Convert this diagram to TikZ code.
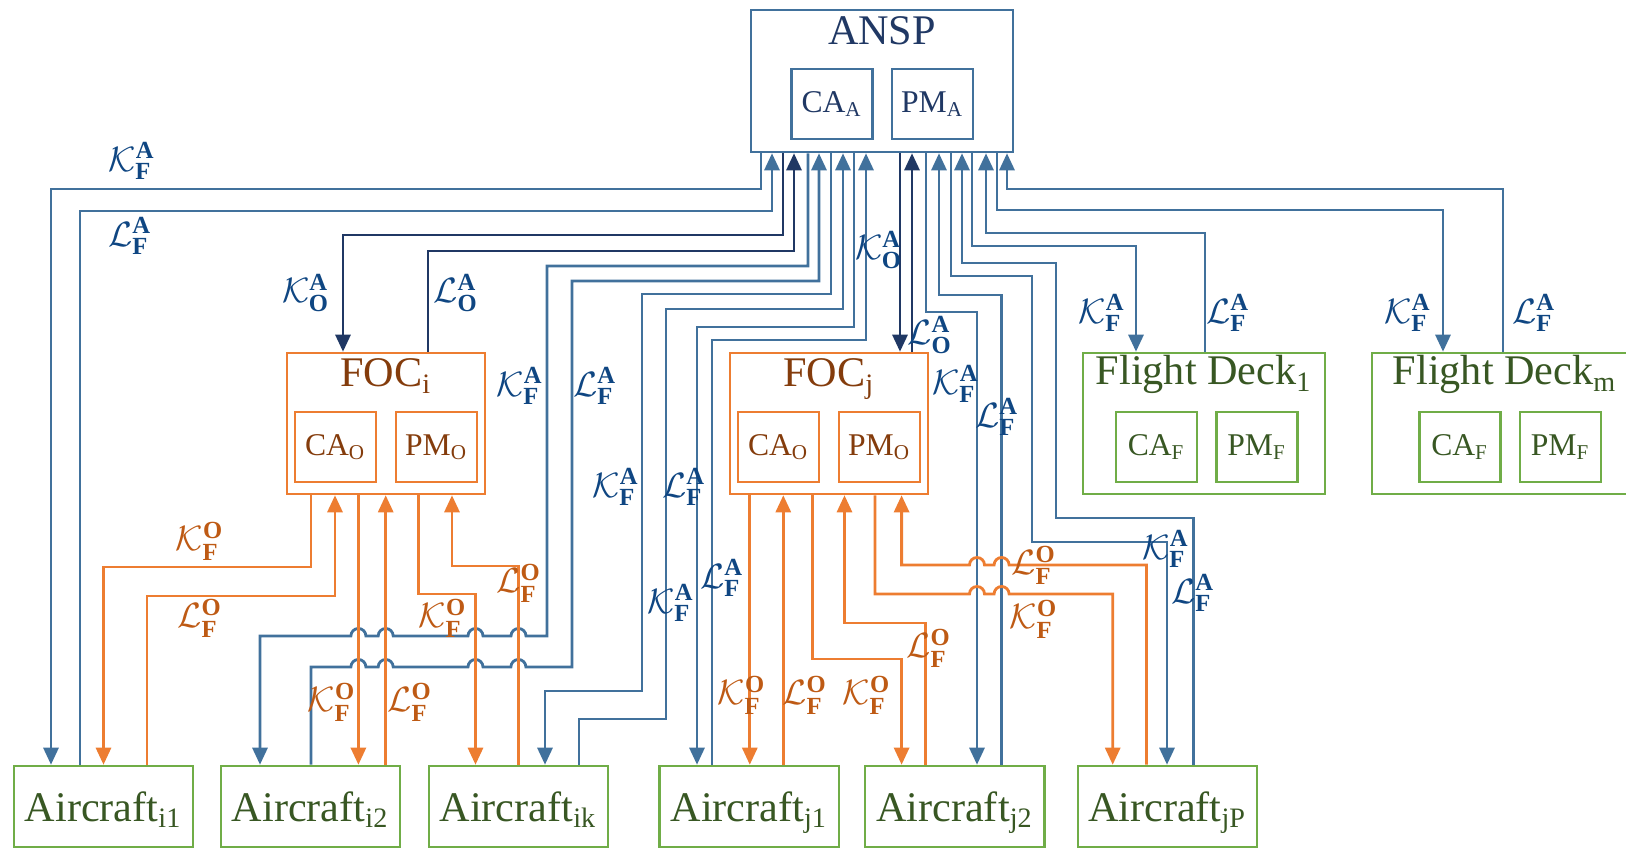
\documentclass[tikz,border=0pt]{standalone}
\usepackage{fontspec}
\setmainfont{Liberation Serif}
\usepackage{amsmath}
\usetikzlibrary{arrows.meta}

\definecolor{lineblue}{RGB}{65,113,156}
\definecolor{darkblue}{RGB}{32,56,100}
\definecolor{textblue}{RGB}{15,70,130}
\definecolor{lineorange}{RGB}{237,125,49}
\definecolor{textorange}{RGB}{190,90,20}
\definecolor{focbrown}{RGB}{132,60,12}
\definecolor{boxgreen}{RGB}{112,173,71}
\definecolor{textgreen}{RGB}{56,87,35}

\newcommand{\kset}[2]{$\mathcal{K}^{\textbf{#1}}_{\textbf{#2}}$}
\newcommand{\lset}[2]{$\mathcal{L}^{\textbf{#1}}_{\textbf{#2}}$}

\tikzset{
	bigbox/.style={draw, line width=0.7pt, inner sep=0pt},
	smallbox/.style={draw, line width=0.7pt, inner sep=0pt, minimum width=0.81cm, minimum height=0.7cm, font=\fontsize{9}{11}\selectfont},
	acbox/.style={draw=boxgreen, text=textgreen, line width=0.7pt, inner sep=0pt, text depth=0pt, minimum width=1.79cm, minimum height=0.81cm, font=\fontsize{12}{14}\selectfont},
	title/.style={inner sep=0pt, anchor=base, font=\fontsize{12}{14}\selectfont},
	arr/.style={-{Triangle[length=0.17cm,width=0.15cm]}},
	alink/.style={lineblue, line width=0.8pt},
	olink/.style={darkblue, line width=0.8pt},
	flink/.style={lineorange, line width=0.8pt},
	alab/.style={text=textblue, inner sep=0pt, font=\fontsize{10}{12}\selectfont},
	flab/.style={text=textorange, inner sep=0pt, font=\fontsize{10}{12}\selectfont},
}

\begin{document}
\begin{tikzpicture}[x=0.01cm, y=-0.01cm]
	\useasboundingbox (0,0) rectangle (1626,849);
	%boîtes
	\node[bigbox, draw=lineblue, minimum width=2.62cm, minimum height=1.42cm] (ansp) at (882,81) {};
	\node[title, text=darkblue] (ansptxt) at (882,45) {ANSP};
	\node[smallbox, draw=lineblue, text=darkblue] (caa) at (832,104) {CA\textsubscript{A}};
	\node[smallbox, draw=lineblue, text=darkblue] (pma) at (932.5,104) {PM\textsubscript{A}};
	\node[bigbox, draw=lineorange, minimum width=1.98cm, minimum height=1.41cm] (foci) at (386,423.5) {};
	\node[title, text=focbrown] (focitxt) at (386,387) {FOC\textsubscript{i}};
	\node[smallbox, draw=lineorange, text=focbrown] (caoi) at (335.5,447) {CA\textsubscript{O}};
	\node[smallbox, draw=lineorange, text=focbrown] (pmoi) at (436.5,447) {PM\textsubscript{O}};
	\node[bigbox, draw=lineorange, minimum width=1.98cm, minimum height=1.41cm] (focj) at (829,423.5) {};
	\node[title, text=focbrown] (focjtxt) at (829,387) {FOC\textsubscript{j}};
	\node[smallbox, draw=lineorange, text=focbrown] (caoj) at (778.5,447) {CA\textsubscript{O}};
	\node[smallbox, draw=lineorange, text=focbrown] (pmoj) at (879.5,447) {PM\textsubscript{O}};
	\node[bigbox, draw=boxgreen, minimum width=2.42cm, minimum height=1.41cm] (fd1) at (1204,423.5) {};
	\node[title, text=textgreen] (fd1txt) at (1204,385) {Flight Deck\textsubscript{1}};
	\node[smallbox, draw=boxgreen, text=textgreen] (caf1) at (1156.5,447) {CA\textsubscript{F}};
	\node[smallbox, draw=boxgreen, text=textgreen] (pmf1) at (1257,447) {PM\textsubscript{F}};
	\node[bigbox, draw=boxgreen, minimum width=2.68cm, minimum height=1.41cm] (fdm) at (1506,423.5) {};
	\node[title, text=textgreen] (fdmtxt) at (1505,385) {Flight Deck\textsubscript{m}};
	\node[smallbox, draw=boxgreen, text=textgreen] (cafm) at (1460,447) {CA\textsubscript{F}};
	\node[smallbox, draw=boxgreen, text=textgreen] (pmfm) at (1560.5,447) {PM\textsubscript{F}};
	\node[acbox] (aci1) at (103.5,806.5) {Aircraft\textsubscript{i1}};
	\node[acbox] (aci2) at (310.5,806.5) {Aircraft\textsubscript{i2}};
	\node[acbox] (acik) at (518.3,806.5) {Aircraft\textsubscript{ik}};
	\node[acbox] (acj1) at (749.2,806.5) {Aircraft\textsubscript{j1}};
	\node[acbox] (acj2) at (954.8,806.5) {Aircraft\textsubscript{j2}};
	\node[acbox] (acjp) at (1167.4,806.5) {Aircraft\textsubscript{jP}};
	%liaisons ANSP
	\draw[alink, arr] (761,0 |- ansp.south) |- (51,189) -- (51,0 |- aci1.north);
	\draw[alink, arr] (80,0 |- aci1.north) |- (772,211) -- (772,0 |- ansp.south);
	\draw[olink, arr] (783,0 |- ansp.south) |- (343,235) -- (343,0 |- foci.north);
	\draw[olink, arr] (428,0 |- foci.north) |- (794,251) -- (794,0 |- ansp.south);
	\draw[alink, arr] (808,0 |- ansp.south) |- (547,266) -- (547,636) -- (526,636) arc (0:-180:7.5) -- (483,636) arc (0:-180:7.5) -- (393.2,636) arc (0:-180:7.5) -- (365.9,636) arc (0:-180:7.5) -| (260,0 |- aci2.north);
	\draw[alink, arr] (311,0 |- aci2.north) |- (350.9,667) arc (180:360:7.5) -- (378.2,667) arc (180:360:7.5) -- (468,667) arc (180:360:7.5) -- (510.9,667) arc (180:360:7.5) -| (572,281) -| (819,0 |- ansp.south);
	\draw[alink, arr] (831,0 |- ansp.south) |- (642,294) |- (545,691) -- (545,0 |- acik.north);
	\draw[alink, arr] (579,0 |- acik.north) |- (666,719) |- (843,309) -- (843,0 |- ansp.south);
	\draw[alink, arr] (854,0 |- ansp.south) |- (697,327) -- (697,0 |- acj1.north);
	\draw[alink, arr] (712,0 |- acj1.north) |- (866,340) -- (866,0 |- ansp.south);
	\draw[olink, arr] (900,0 |- ansp.south) -- (900,0 |- focj.north);
	\draw[olink, arr] (912,0 |- focj.north) -- (912,0 |- ansp.south);
	\draw[alink, arr] (926,0 |- ansp.south) |- (977,312) -- (977,0 |- acj2.north);
	\draw[alink, arr] (1001.6,0 |- acj2.north) |- (939,295) -- (939,0 |- ansp.south);
	\draw[alink, arr] (951,0 |- ansp.south) |- (1032,276) |- (1167,542) -- (1167,0 |- acjp.north);
	\draw[alink, arr] (1193.5,0 |- acjp.north) |- (1056,518) |- (962,263) -- (962,0 |- ansp.south);
	\draw[alink, arr] (972,0 |- ansp.south) |- (1136,246) -- (1136,0 |- fd1.north);
	\draw[alink, arr] (1205,0 |- fd1.north) |- (986,233) -- (986,0 |- ansp.south);
	\draw[alink, arr] (997,0 |- ansp.south) |- (1443,210) -- (1443,0 |- fdm.north);
	\draw[alink, arr] (1503,0 |- fdm.north) |- (1007,189) -- (1007,0 |- ansp.south);
	%liaisons FOC
	\draw[flink, arr] (311,0 |- foci.south) |- (103.5,567) -- (103.5,0 |- aci1.north);
	\draw[flink, arr] (147,0 |- aci1.north) |- (335,596) -- (335,0 |- foci.south);
	\draw[flink, arr] (358.4,0 |- foci.south) -- (358.4,0 |- aci2.north);
	\draw[flink, arr] (385.7,0 |- aci2.north) -- (385.7,0 |- foci.south);
	\draw[flink, arr] (418.4,0 |- foci.south) |- (475.5,594) -- (475.5,0 |- acik.north);
	\draw[flink, arr] (518.4,0 |- acik.north) |- (452,566) -- (452,0 |- foci.south);
	\draw[flink, arr] (749.8,0 |- focj.south) -- (749.8,0 |- acj1.north);
	\draw[flink, arr] (783.3,0 |- acj1.north) -- (783.3,0 |- focj.south);
	\draw[flink, arr] (812.7,0 |- focj.south) |- (901.6,659) -- (901.6,0 |- acj2.north);
	\draw[flink, arr] (925.3,0 |- acj2.north) |- (844.5,623) -- (844.5,0 |- focj.south);
	\draw[flink, arr] (875,0 |- focj.south) |- (969.5,594) arc (180:360:7.5) -- (994.1,594) arc (180:360:7.5) -| (1112.7,0 |- acjp.north);
	\draw[flink, arr] (1146.5,0 |- acjp.north) |- (1009.1,565) arc (0:-180:7.5) -- (984.5,565) arc (0:-180:7.5) -| (901.6,0 |- focj.south);
	%décorations
	\node[alab] (ka1) at (132,161) {\kset{A}{F}};
	\node[alab] (la1) at (130,236) {\lset{A}{F}};
	\node[alab] (koi) at (306,293) {\kset{A}{O}};
	\node[alab] (loi) at (456,293) {\lset{A}{O}};
	\node[alab] (ka2) at (520,386) {\kset{A}{F}};
	\node[alab] (la2) at (595,386) {\lset{A}{F}};
	\node[alab] (kak) at (616,487) {\kset{A}{F}};
	\node[alab] (lak) at (684,487) {\lset{A}{F}};
	\node[alab] (kaj1) at (671,603) {\kset{A}{F}};
	\node[alab] (laj1) at (722,578) {\lset{A}{F}};
	\node[alab] (koj) at (879,250) {\kset{A}{O}};
	\node[alab] (loj) at (930,335) {\lset{A}{O}};
	\node[alab] (kaj2) at (956,384) {\kset{A}{F}};
	\node[alab] (laj2) at (997,417) {\lset{A}{F}};
	\node[alab] (kajp) at (1166,549) {\kset{A}{F}};
	\node[alab] (lajp) at (1193,593) {\lset{A}{F}};
	\node[alab] (kfd1) at (1102,313) {\kset{A}{F}};
	\node[alab] (lfd1) at (1228,313) {\lset{A}{F}};
	\node[alab] (kfdm) at (1408,313) {\kset{A}{F}};
	\node[alab] (lfdm) at (1534,313) {\lset{A}{F}};
	\node[flab] (ko1) at (200,541) {\kset{O}{F}};
	\node[flab] (lo1) at (200,618) {\lset{O}{F}};
	\node[flab] (lok) at (519,583) {\lset{O}{F}};
	\node[flab] (kok) at (443,618) {\kset{O}{F}};
	\node[flab] (ko2) at (332,702) {\kset{O}{F}};
	\node[flab] (lo2) at (410,702) {\lset{O}{F}};
	\node[flab] (lojp) at (1034,565) {\lset{O}{F}};
	\node[flab] (kojp) at (1034,619) {\kset{O}{F}};
	\node[flab] (loj2) at (929,648) {\lset{O}{F}};
	\node[flab] (koj1) at (742,695) {\kset{O}{F}};
	\node[flab] (loj1) at (805,695) {\lset{O}{F}};
	\node[flab] (koj2) at (867,695) {\kset{O}{F}};
\end{tikzpicture}
\end{document}
